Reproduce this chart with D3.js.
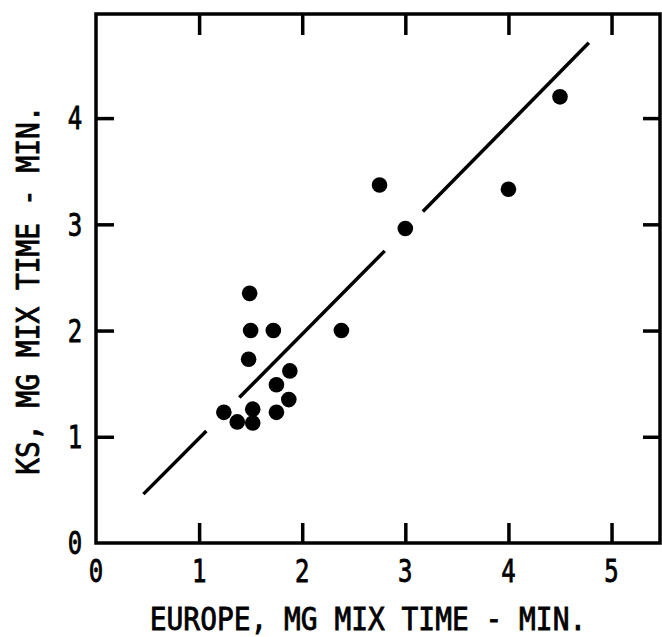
<!DOCTYPE html>
<html>
<head>
<meta charset="utf-8">
<script src="https://cdn.jsdelivr.net/npm/d3@7"></script>
<style>
  body { margin: 0; background: #fff; }
  svg { display: block; }
  text { font-family: 'DejaVu Sans Mono', monospace; fill: #000; stroke: #000; stroke-width: 0.8px; }
</style>
</head>
<body>
<svg></svg>
<script>
// data
let europe = [1.5, 1.72, 2.38, 1.48, 1.88, 1.75, 1.87, 1.24, 1.52, 1.37, 1.52, 1.75, 1.49, 2.75, 3.0, 4.0, 4.5];
let ks     = [2.0, 2.0, 2.0, 1.73, 1.62, 1.49, 1.35, 1.23, 1.26, 1.14, 1.13, 1.23, 2.35, 3.37, 2.96, 3.33, 4.2];

// fitted line, drawn in three pieces (gaps around the points)
let lineStartX = [0.46, 1.39, 3.17];
let lineStartY = [0.46, 1.37, 3.12];
let lineEndX   = [1.07, 2.80, 4.78];
let lineEndY   = [1.055, 2.75, 4.71];

let xTicks = [0, 1, 2, 3, 4, 5];
let yTicks = [0, 1, 2, 3, 4];

let width = 662;
let height = 637;
let padLeft = 96, padRight = 660, padTop = 14, padBottom = 543;

let svg = d3.select('svg')
            .attr('width', width)
            .attr('height', height);

let xScale = d3.scaleLinear()
               .domain([0, 5.47])
               .range([padLeft, padRight]);

let yScale = d3.scaleLinear()
               .domain([0, 4.98])
               .range([padBottom, padTop]);

// frame
svg.append('rect')
   .attr('x', padLeft)
   .attr('y', padTop)
   .attr('width', padRight - padLeft)
   .attr('height', padBottom - padTop)
   .attr('fill', 'none')
   .attr('stroke', '#000')
   .attr('stroke-width', 3.5);

// inward ticks on all four sides
let tickStyle = g => {
    g.select('.domain').remove();
    g.selectAll('.tick line').attr('stroke', '#000').attr('stroke-width', 3.5);
};

svg.append('g')
   .attr('transform', `translate(0, ${padBottom})`)
   .call(d3.axisBottom(xScale).tickValues(xTicks.slice(1)).tickSize(-20).tickFormat(''))
   .call(tickStyle);

svg.append('g')
   .attr('transform', `translate(0, ${padTop})`)
   .call(d3.axisTop(xScale).tickValues(xTicks.slice(1)).tickSize(-21).tickFormat(''))
   .call(tickStyle);

svg.append('g')
   .attr('transform', `translate(${padLeft}, 0)`)
   .call(d3.axisLeft(yScale).tickValues(yTicks.slice(1)).tickSize(-18).tickFormat(''))
   .call(tickStyle);

svg.append('g')
   .attr('transform', `translate(${padRight}, 0)`)
   .call(d3.axisRight(yScale).tickValues(yTicks.slice(1)).tickSize(-17).tickFormat(''))
   .call(tickStyle);

// tick labels
svg.append('g')
   .selectAll('text')
   .data(xTicks)
   .enter()
   .append('text')
   .attr('text-anchor', 'middle')
   .attr('font-size', 30)
   .attr('transform', d => `translate(${xScale(d)}, 582) scale(0.8, 1.05)`)
   .text(d => d);

svg.append('g')
   .selectAll('text')
   .data(yTicks)
   .enter()
   .append('text')
   .attr('dy', '0.36em')
   .attr('text-anchor', 'middle')
   .attr('font-size', 30)
   .attr('transform', d => `translate(75, ${yScale(d)}) scale(0.8, 1.05)`)
   .text(d => d);

// regression line
svg.append('g')
   .selectAll('line')
   .data(lineStartX)
   .enter()
   .append('line')
   .attr('x1', (d, i) => xScale(lineStartX[i]))
   .attr('y1', (d, i) => yScale(lineStartY[i]))
   .attr('x2', (d, i) => xScale(lineEndX[i]))
   .attr('y2', (d, i) => yScale(lineEndY[i]))
   .attr('stroke', '#000')
   .attr('stroke-width', 3.5);

// points
svg.append('g')
   .selectAll('circle')
   .data(europe)
   .enter()
   .append('circle')
   .attr('cx', d => xScale(d))
   .attr('cy', (d, i) => yScale(ks[i]))
   .attr('r', 7.8)
   .attr('fill', '#000');

// axis titles
svg.append('text')
   .attr('text-anchor', 'middle')
   .attr('font-size', 30)
   .attr('transform', 'translate(368, 630) scale(0.93, 1.04)')
   .text('EUROPE, MG MIX TIME - MIN.');

svg.append('text')
   .attr('transform', 'translate(39, 290) rotate(-90) scale(0.93, 1.04)')
   .attr('text-anchor', 'middle')
   .attr('font-size', 30)
   .text('KS, MG MIX TIME - MIN.');
</script>
</body>
</html>
